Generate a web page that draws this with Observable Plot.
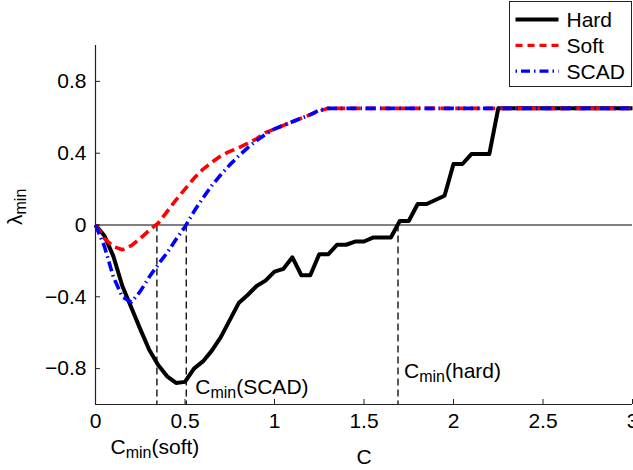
<!DOCTYPE html>
<html><head><meta charset="utf-8">
<script src="https://cdn.jsdelivr.net/npm/d3@7"></script>
<script src="https://cdn.jsdelivr.net/npm/@observablehq/plot@0.6"></script>
<style>
body{margin:0;background:#fff;}
#wrap{position:relative;width:633px;height:470px;overflow:hidden;background:#fff;}
#legend{position:absolute;left:509px;top:1px;width:121px;height:84px;border:1.5px solid #222;background:#fff;}
#legend svg{display:block;}
</style></head><body><div id="wrap"></div>
<script>
// ---- data ----
const hardC = [0,0.05,0.1,0.15,0.2,0.25,0.3,0.35,0.4,0.45,0.5,0.55,0.6,0.65,0.7,0.75,0.8,0.85,0.9,0.95,1.0,1.05,1.1,1.15,1.2,1.25,1.3,1.35,1.4,1.45,1.5,1.55,1.65,1.7,1.75,1.8,1.85,1.95,2.0,2.05,2.1,2.2,2.25,3.0];
const hardL = [0,-0.06,-0.175,-0.34,-0.46,-0.58,-0.695,-0.78,-0.843,-0.88,-0.874,-0.80,-0.76,-0.70,-0.625,-0.53,-0.435,-0.39,-0.34,-0.31,-0.26,-0.244,-0.18,-0.28,-0.28,-0.163,-0.163,-0.11,-0.11,-0.092,-0.092,-0.07,-0.07,0.022,0.022,0.117,0.117,0.163,0.34,0.34,0.395,0.395,0.65,0.65];
const softC = [0,0.05,0.1,0.15,0.2,0.25,0.3,0.35,0.4,0.45,0.5,0.55,0.6,0.65,0.7,0.75,0.8,0.85,0.9,0.95,1.0,1.05,1.1,1.15,1.2,1.25,1.3,3.0];
const softL = [0,-0.075,-0.12,-0.138,-0.115,-0.075,-0.03,0.01,0.075,0.14,0.2,0.26,0.31,0.35,0.385,0.41,0.43,0.455,0.48,0.515,0.535,0.555,0.575,0.595,0.615,0.635,0.65,0.65];
const scadC = [0,0.05,0.1,0.15,0.2,0.25,0.3,0.35,0.4,0.45,0.5,0.55,0.6,0.65,0.7,0.75,0.8,0.85,0.9,0.95,1.0,1.05,1.1,1.15,1.2,1.25,1.3,3.0];
const scadL = [0,-0.12,-0.29,-0.40,-0.43,-0.37,-0.29,-0.22,-0.155,-0.08,-0.01,0.075,0.15,0.22,0.28,0.335,0.385,0.43,0.47,0.505,0.535,0.555,0.575,0.595,0.615,0.64,0.65,0.65];
const seriesNames = ["Hard","Soft","SCAD"];
const cminNames = ["Cmin(soft)","Cmin(SCAD)","Cmin(hard)"];
const cminValues = [0.343,0.507,1.69];
const xTicks = [0,0.5,1,1.5,2,2.5,3];
const yTicks = [-0.8,-0.4,0,0.4,0.8];
const xLabel = "C";
const yLabel = "λmin";

// ---- styles ----
const styleOf = {
  Hard: {stroke:"#000000", strokeWidth:4, dash:null, legendDash:null, legendWidth:4},
  Soft: {stroke:"#ff0000", strokeWidth:3.6, dash:"10,5", legendDash:"7,5", legendWidth:3.2},
  SCAD: {stroke:"#0000ff", strokeWidth:3.6, dash:"10,4,1.5,4", legendDash:"1.5,4,9,4", legendWidth:3.2}
};
const seriesData = {
  Hard: hardC.map((c,i)=>({c, l:hardL[i]})),
  Soft: softC.map((c,i)=>({c, l:softL[i]})),
  SCAD: scadC.map((c,i)=>({c, l:scadL[i]}))
};
const cmin = cminNames.map((n,i)=>({name:n, c:cminValues[i]}));
const fmtY = d => d === 0 ? "0" : d3.format(".1f")(d);
const axisColor = "#222";

const chart = Plot.plot({
  width: 633, height: 470,
  marginLeft: 95, marginRight: 1, marginTop: 45, marginBottom: 66,
  style: {fontFamily: "'Liberation Sans', Arial, Helvetica, sans-serif", fontSize: "21px", background: "#fff", color: "#000", overflow: "visible"},
  x: {domain: [0,3]},
  y: {domain: [-1,1]},
  marks: [
    Plot.axisX(xTicks, {tickSize: 0, tickPadding: 9, label: null, tickFormat: d => String(d), fontSize: 21}),
    Plot.axisY(yTicks, {tickSize: 0, tickPadding: 9, label: null, tickFormat: fmtY, fontSize: 21}),
    Plot.tickX(xTicks, {x: d => d, insetTop: 354, stroke: axisColor}),
    Plot.tickY(yTicks, {y: d => d, insetRight: 532, stroke: axisColor}),
    Plot.ruleY([0], {stroke: "#000", strokeWidth: 1}),
    Plot.ruleX(cmin, {x: "c", y1: 0, y2: -1, stroke: "#000", strokeWidth: 1.3, strokeDasharray: "7,4"}),
    ...seriesNames.map(n => Plot.line(seriesData[n], {x: "c", y: "l", stroke: styleOf[n].stroke, strokeWidth: styleOf[n].strokeWidth, strokeDasharray: styleOf[n].dash, strokeLinejoin: "round", strokeLinecap: "butt"})),
    Plot.ruleX([0], {stroke: axisColor, strokeWidth: 1.2}),
    Plot.ruleY([-1], {stroke: axisColor, strokeWidth: 1.2}),
    Plot.text(cmin.filter(d => d.name === cminNames[0]), {x: "c", frameAnchor: "bottom", text: "name", textAnchor: "middle", lineAnchor: "bottom", dx: -2, dy: 49, fontSize: 21}),
    Plot.text(cmin.filter(d => d.name === cminNames[1]), {x: "c", frameAnchor: "bottom", text: "name", textAnchor: "start", lineAnchor: "bottom", dx: 9, dy: -11, fontSize: 21}),
    Plot.text(cmin.filter(d => d.name === cminNames[2]), {x: "c", frameAnchor: "bottom", text: "name", textAnchor: "start", lineAnchor: "bottom", dx: 6, dy: -27, fontSize: 21}),
    Plot.text([xLabel], {text: d => d, frameAnchor: "bottom", lineAnchor: "bottom", dy: 59, fontSize: 21}),
    Plot.text([yLabel], {text: d => d, frameAnchor: "left", rotate: -90, lineAnchor: "bottom", dx: -74, fontSize: 21})
  ]
});
const wrap = document.getElementById("wrap");
wrap.appendChild(chart);

// subscripts "min"
d3.select(chart).selectAll("text").each(function() {
  const t = this.textContent;
  const m = /^(C|λ)min(.*)$/.exec(t);
  if (!m) return;
  const sel = d3.select(this);
  sel.text(null);
  sel.append("tspan").text(m[1]);
  sel.append("tspan").attr("font-size", 16).attr("dy", 4).text("min");
  if (m[2]) sel.append("tspan").attr("dy", -4).text(m[2]);
});

// legend
const leg = d3.select(wrap).append("div").attr("id", "legend");
const lsvg = leg.append("svg").attr("width", 121).attr("height", 84)
  .style("font-family", "'Liberation Sans', Arial, Helvetica, sans-serif").style("font-size", "21px");
seriesNames.forEach((n, i) => {
  const y = 17.5 + i * 25.8;
  const s = styleOf[n];
  lsvg.append("line").attr("x1", 5.5).attr("x2", 48.5).attr("y1", y).attr("y2", y)
    .attr("stroke", s.stroke).attr("stroke-width", s.legendWidth)
    .attr("stroke-dasharray", s.legendDash);
  lsvg.append("text").attr("x", 56.5).attr("y", y + 7.5).text(n);
});
</script></body></html>
